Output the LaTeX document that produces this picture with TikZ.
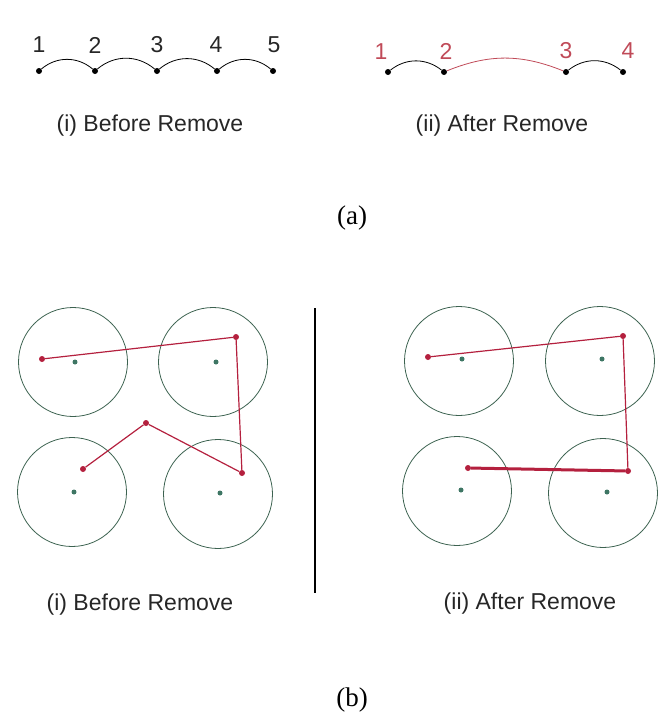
\documentclass[tikz,border=0pt]{standalone}
\usepackage{fontspec}
\setmainfont{Liberation Serif}
\newfontfamily\labelfont{Liberation Sans}
\usepackage{xcolor}
\usepackage{tikz}
\usetikzlibrary{arrows.meta, positioning}
\definecolor{ringgreen}{RGB}{60, 98, 80}
\definecolor{centregreen}{RGB}{62, 118, 100}
\definecolor{pathred}{RGB}{180, 32, 62}
\definecolor{numred}{RGB}{192, 74, 88}
\definecolor{inkgray}{RGB}{38, 38, 38}

\begin{document}
\begin{tikzpicture}[x=1pt, y=1pt,
   dot/.style={circle, fill=black, inner sep=0pt, minimum size=6pt},
   num/.style={font=\labelfont\fontsize{23}{26}\selectfont, text=inkgray, inner sep=0pt},
   rednum/.style={num, text=numred},
   caption/.style={font=\labelfont\fontsize{23}{26}\selectfont, text=inkgray, inner sep=0pt},
   part/.style={font=\fontsize{27}{30}\selectfont, inner sep=0pt},
   ring/.style={circle, draw=ringgreen, line width=0.8pt, minimum size=109pt, inner sep=0pt},
   centre/.style={circle, fill=centregreen, inner sep=0pt, minimum size=5pt},
   hop/.style={circle, fill=pathred, inner sep=0pt, minimum size=6pt},
   link/.style={pathred, line width=1.2pt}]
  \useasboundingbox (0,0) rectangle (657,-720);

  % (a)(i) chain before
  \node[dot] (a1) at (39,-71) {};
  \node[dot] (a2) at (95,-71) {};
  \node[dot] (a3) at (157,-71) {};
  \node[dot] (a4) at (217,-71) {};
  \node[dot] (a5) at (273,-71) {};
  \node[num] (na1) at (39,-45) {1};
  \node[num] (na2) at (95,-45) {2};
  \node[num] (na3) at (157,-45) {3};
  \node[num] (na4) at (216,-45) {4};
  \node[num] (na5) at (274,-45) {5};
  \draw[thick] (a1) to[bend left=40] (a2);
  \draw[thick] (a2) to[bend left=40] (a3);
  \draw[thick] (a3) to[bend left=40] (a4);
  \draw[thick] (a4) to[bend left=40] (a5);
  \node[caption] (capa1) at (150,-126) {(i) Before Remove};

  % (a)(ii) chain after
  \node[dot] (b1) at (388,-72) {};
  \node[dot] (b2) at (444,-72) {};
  \node[dot] (b3) at (566,-72) {};
  \node[dot] (b4) at (623,-72) {};
  \node[rednum] (nb1) at (381,-52) {1};
  \node[rednum] (nb2) at (446,-51) {2};
  \node[rednum] (nb3) at (566,-51) {3};
  \node[rednum] (nb4) at (628,-51) {4};
  \draw[thick] (b1) to[bend left=38] (b2);
  \draw[thick, numred] (b2) to[bend left=22] (b3);
  \draw[thick] (b3) to[bend left=38] (b4);
  \node[caption] (capa2) at (502,-126) {(ii) After Remove};

  \node[part] (parta) at (352,-218) {(a)};

  % (b)(i) before
  \node[ring] (r1) at (73,-362) {};
  \node[ring] (r2) at (213,-362) {};
  \node[ring] (r3) at (72,-492) {};
  \node[ring] (r4) at (218,-494) {};
  \node[centre] (m1) at (75,-362) {};
  \node[centre] (m2) at (216,-362) {};
  \node[centre] (m3) at (74,-492) {};
  \node[centre] (m4) at (220,-493) {};
  \node[hop] (p1) at (42,-359) {};
  \node[hop] (p2) at (236,-337) {};
  \node[hop] (p3) at (242,-473) {};
  \node[hop] (p4) at (146,-423) {};
  \node[hop] (p5) at (83,-469) {};
  \draw[link] (p1) -- (p2) -- (p3) -- (p4) -- (p5);
  \node[caption] (capb1) at (140,-605) {(i) Before Remove};

  % divider
  \coordinate (top) at (315,-308);
  \coordinate (bot) at (315,-593);
  \draw[line width=1.2pt] (top) -- (bot);

  % (b)(ii) after
  \node[ring] (s1) at (459,-361) {};
  \node[ring] (s2) at (600,-361) {};
  \node[ring] (s3) at (457,-491) {};
  \node[ring] (s4) at (603,-493) {};
  \node[centre] (k1) at (462,-359) {};
  \node[centre] (k2) at (602,-359) {};
  \node[centre] (k3) at (461,-490) {};
  \node[centre] (k4) at (607,-492) {};
  \node[hop] (q1) at (428,-357) {};
  \node[hop] (q2) at (623,-336) {};
  \node[hop] (q3) at (628,-471) {};
  \node[hop] (q4) at (468,-468) {};
  \draw[link] (q1) -- (q2) -- (q3);
  \draw[link, line width=3pt] (q3) -- (q4);
  \node[caption] (capb2) at (530,-604) {(ii) After Remove};

  \node[part] (partb) at (352,-700) {(b)};
\end{tikzpicture}
\end{document}
